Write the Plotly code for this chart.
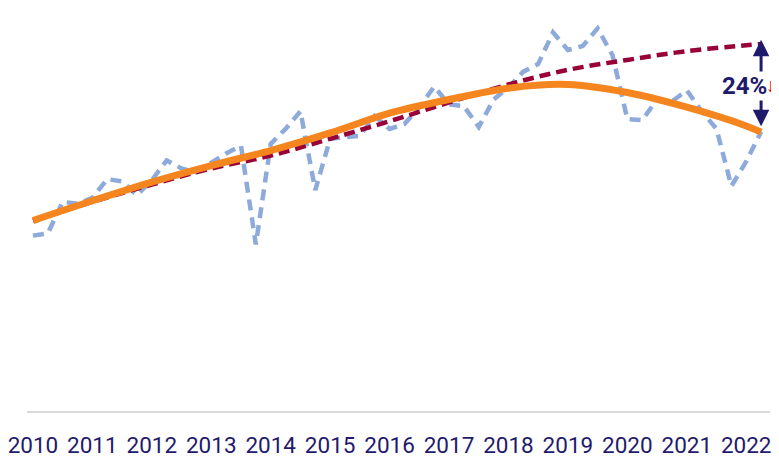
import plotly.graph_objects as go

# Quarterly observed series (2010Q1 .. 2022Q2)
quarters = [2010 + i * 0.25 for i in range(50)]
actual = [47.8, 48.4, 57.0, 56.5, 58.1, 63.2, 62.6, 58.9, 62.9, 68.3,
          66.1, 65.1, 67.7, 70.2, 72.3, 45.4, 72.8, 76.9, 81.7, 60.2,
          74.2, 74.7, 75.0, 80.4, 76.9, 78.2, 82.8, 88.4, 83.6, 83.1,
          77.4, 84.9, 88.2, 92.5, 94.6, 103.2, 98.4, 99.5, 104.3, 97.0,
          79.6, 79.3, 84.9, 84.4, 87.4, 81.7, 76.9, 61.3, 68.0, 76.1]

# Smoothed series and pre-crisis trend (yearly + final quarter)
trend_x = [2010, 2011, 2012, 2013, 2014, 2015, 2016, 2017, 2018, 2019, 2020, 2021, 2022, 2022.25]
smoothed = [51.9, 57.3, 62.4, 66.9, 71.0, 75.8, 81.2, 84.9, 88.0, 89.0, 86.8, 82.8, 77.7, 76.0]
pre_trend = [51.9, 57.0, 61.7, 66.1, 69.6, 74.2, 79.0, 84.1, 89.0, 93.0, 95.7, 98.1, 99.7, 100.0]

year_ticks = list(range(2010, 2023))
year_labels = [str(y) for y in year_ticks]

gap_label = "24%"

NAVY = "#1f1a6c"

fig = go.Figure()
fig.add_trace(go.Scatter(x=quarters, y=actual, mode="lines",
                         line=dict(color="#8eaadb", width=4.5, dash="11px,7px"),
                         hoverinfo="skip"))
fig.add_trace(go.Scatter(x=trend_x, y=pre_trend, mode="lines",
                         line=dict(color="#990038", width=4.5, dash="11px,6px", shape="spline"),
                         hoverinfo="skip"))
fig.add_trace(go.Scatter(x=trend_x, y=smoothed, mode="lines",
                         line=dict(color="#f5861f", width=7, shape="spline"),
                         hoverinfo="skip"))

# Double-headed arrow between trend end and smoothed end
fig.add_annotation(x=trend_x[-1], y=smoothed[-1] + 1.6, ax=trend_x[-1], ay=pre_trend[-1] + 1.6,
                   xref="x", yref="y", axref="x", ayref="y", text="",
                   showarrow=True, arrowhead=2, arrowside="end+start",
                   arrowsize=1.1, arrowwidth=3, arrowcolor=NAVY)
fig.add_annotation(x=2022.36, y=88.6, xref="x", yref="y", xanchor="right",
                   text="<b>" + gap_label + "</b>",
                   showarrow=False, font=dict(family="Roboto", size=24, color=NAVY),
                   bgcolor="white", borderpad=0)
fig.add_annotation(x=1.0095, y=88.6, xref="paper", yref="y", text="↓", xanchor="right",
                   showarrow=False, borderpad=0,
                   font=dict(family="Liberation Sans", size=19, color="#ff0000"))

# Page body adds an 8px offset; figure sized so it ends at the window edge.
fig.update_layout(
    width=771, height=450,
    margin=dict(l=15, r=9, t=0, b=42),
    paper_bgcolor="white", plot_bgcolor="white",
    showlegend=False,
    xaxis=dict(range=[2009.9, 2022.4], tickvals=year_ticks, ticktext=year_labels,
               showgrid=False, zeroline=False, showline=True, linecolor="#d9d9d9",
               linewidth=2, ticks="", ticklabelstandoff=13, ticklabeloverflow="allow",
               tickfont=dict(family="Roboto", size=22.5, color=NAVY)),
    yaxis=dict(range=[0, 109.85], visible=False, showgrid=False, zeroline=False),
)

fig.write_html("out.html")
